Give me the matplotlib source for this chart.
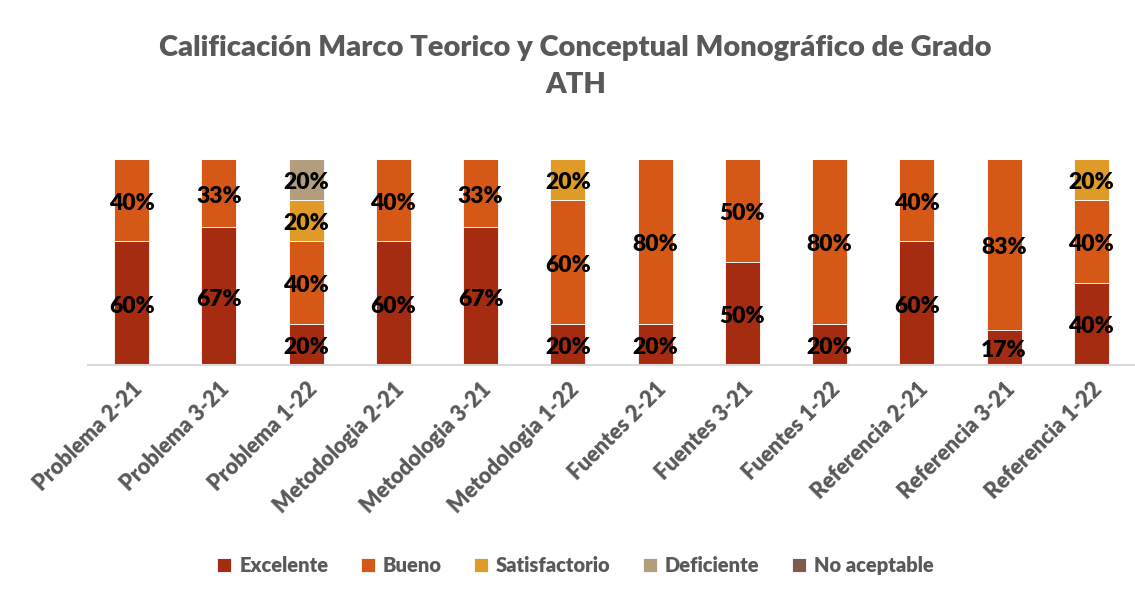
import matplotlib.pyplot as plt
import numpy as np

plt.rcParams['font.family'] = ['Lato', 'DejaVu Sans']

categorias = ['Problema 2-21', 'Problema 3-21', 'Problema 1-22',
              'Metodologia 2-21', 'Metodologia 3-21', 'Metodologia 1-22',
              'Fuentes 2-21', 'Fuentes 3-21', 'Fuentes 1-22',
              'Referencia 2-21', 'Referencia 3-21', 'Referencia 1-22']

excelente = [60, 67, 20, 60, 67, 20, 20, 50, 20, 60, 17, 40]
bueno = [40, 33, 40, 40, 33, 60, 80, 50, 80, 40, 83, 40]
satisfactorio = [0, 0, 20, 0, 0, 20, 0, 0, 0, 0, 0, 20]
deficiente = [0, 0, 20, 0, 0, 0, 0, 0, 0, 0, 0, 0]
no_aceptable = [0, 0, 0, 0, 0, 0, 0, 0, 0, 0, 0, 0]

series = [('Excelente', excelente, '#A52C10'),
          ('Bueno', bueno, '#D55816'),
          ('Satisfactorio', satisfactorio, '#E09A28'),
          ('Deficiente', deficiente, '#B39D7D'),
          ('No aceptable', no_aceptable, '#7E5A4E')]

gris = '#595959'

fig = plt.figure(figsize=(11.35, 6), dpi=100)
ax = fig.add_axes([88 / 1135, 1 - 365 / 600, 1 - 88 / 1135, (365 - 159) / 600])

x = np.arange(len(categorias))
base = np.zeros(len(categorias))
for nombre, vals, color in series:
    vals = np.array(vals, dtype=float)
    ax.bar(x, vals, 0.4, bottom=base, color=color, edgecolor='white',
           linewidth=0.6, label=nombre)
    for xi, b, v in zip(x, base, vals):
        if v > 0:
            ax.text(xi, b + v / 2 - 1.5, f'{v:.0f}%', ha='center', va='center',
                    fontsize=16.5, fontweight='heavy', color='black')
    base += vals

ax.set_xlim(-0.5, 11.5)
ax.set_ylim(0, 100)
ax.set_yticks([])
for s in ['top', 'right', 'left']:
    ax.spines[s].set_visible(False)
ax.spines['bottom'].set_color('#D9D9D9')
ax.spines['bottom'].set_linewidth(1.5)
ax.set_xticks(x)
ax.set_xticklabels(categorias, rotation=45, ha='right', rotation_mode='anchor',
                   fontsize=15.5, fontweight='heavy', color=gris)
ax.tick_params(axis='x', length=0, pad=10)

fig.text(0.507, 0.92, 'Calificación Marco Teorico y Conceptual Monográfico de Grado',
         ha='center', va='center', fontsize=21, fontweight='heavy', color=gris)
fig.text(0.507, 0.858, 'ATH', ha='center', va='center', fontsize=21,
         fontweight='heavy', color=gris)

fig.legend(loc='center', bbox_to_anchor=(0.507, 0.058), ncol=5, frameon=False,
           prop={'size': 14.5, 'weight': 'heavy'}, labelcolor=gris,
           handlelength=0.7, handleheight=0.7, handletextpad=0.4, columnspacing=1.6)

fig.savefig('out.png', dpi=100)
